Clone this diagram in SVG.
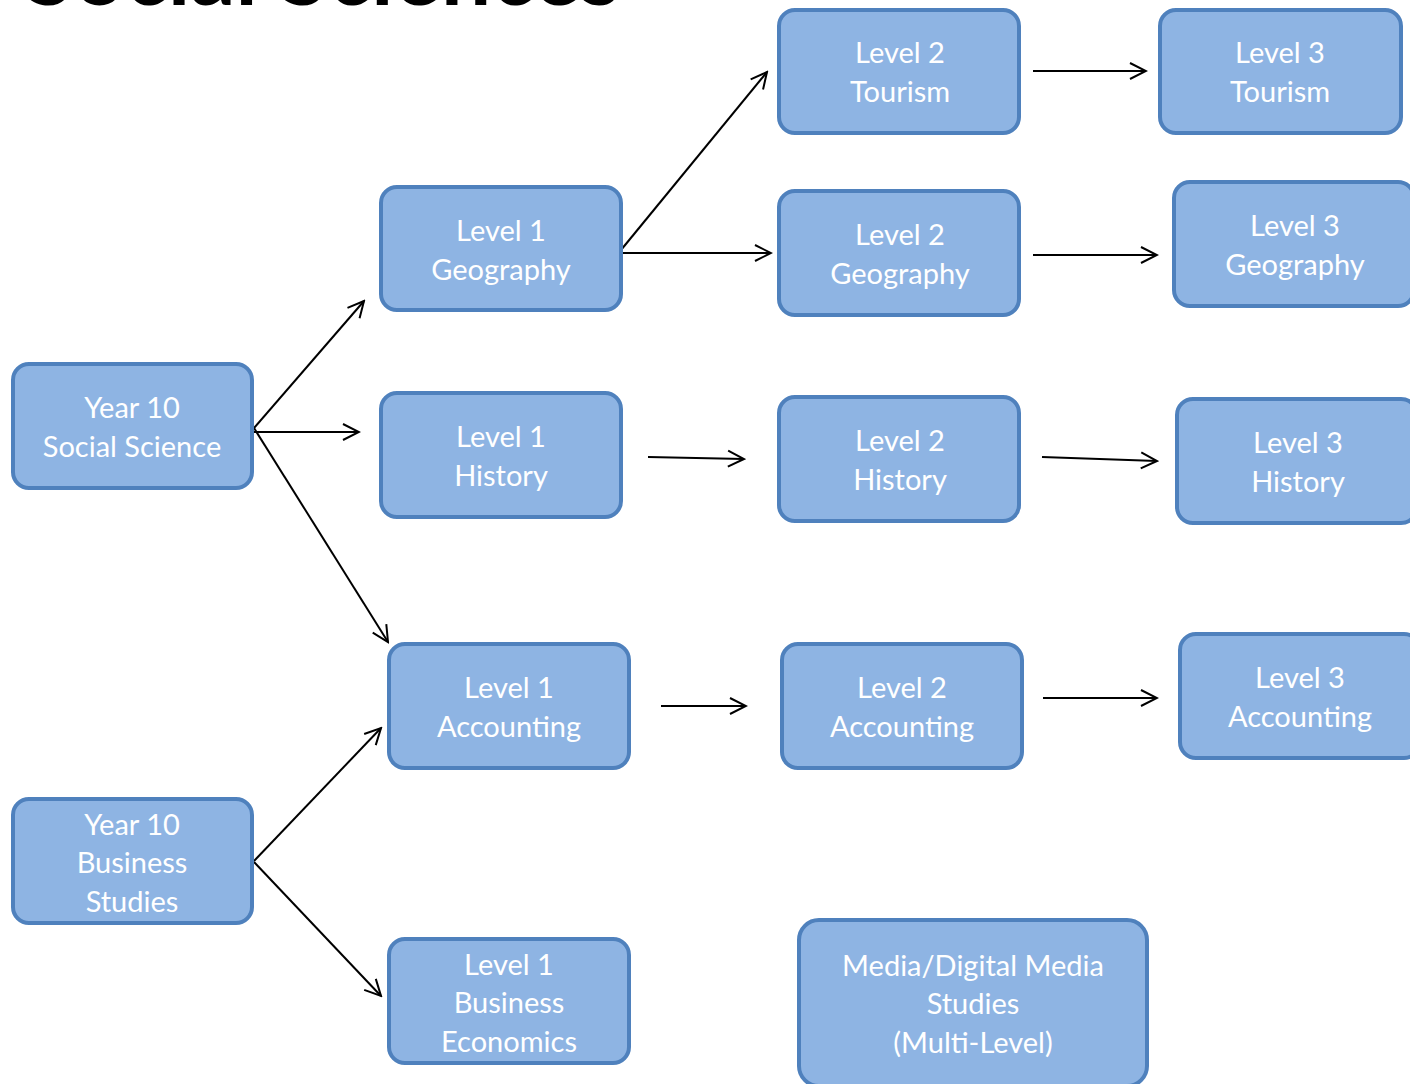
<svg xmlns="http://www.w3.org/2000/svg" width="1410" height="1084" viewBox="0 0 1410 1084">
<style>
.box{fill:#8EB4E3;stroke:#4F81BD;stroke-width:4}
.t{font-family:Lato,"Open Sans","Liberation Sans",sans-serif;font-size:29px;fill:#ffffff;text-anchor:middle}
.c{stroke:#000;stroke-width:2;fill:none;marker-end:url(#ah)}
.title{font-family:Lato,"Liberation Sans",sans-serif;font-weight:bold;font-size:90px;fill:#000}
</style>
<defs>
<marker id="ah" viewBox="0 0 20 20" markerWidth="20" markerHeight="20" markerUnits="userSpaceOnUse" refX="18" refY="10" orient="auto">
<path d="M2,2 L18,10 L2,18" fill="none" stroke="#000" stroke-width="2"/>
</marker>
</defs>
<rect width="1410" height="1084" fill="#fff"/>
<text class="title" x="25" y="5" textLength="595" lengthAdjust="spacingAndGlyphs">Social Sciences</text>

<g id="connectors">
<line class="c" x1="254" y1="428" x2="364" y2="301"/>
<line class="c" x1="254" y1="432" x2="359" y2="432"/>
<line class="c" x1="254" y1="428" x2="388" y2="642"/>
<line class="c" x1="621" y1="250" x2="767" y2="72"/>
<line class="c" x1="621" y1="253" x2="771" y2="253"/>
<line class="c" x1="1033" y1="71" x2="1146" y2="71"/>
<line class="c" x1="1033" y1="255" x2="1157" y2="255"/>
<line class="c" x1="648" y1="457" x2="744" y2="459"/>
<line class="c" x1="1042" y1="457" x2="1157" y2="461"/>
<line class="c" x1="661" y1="706" x2="746" y2="706"/>
<line class="c" x1="1043" y1="698" x2="1157" y2="698"/>
<line class="c" x1="254" y1="861" x2="381" y2="728"/>
<line class="c" x1="254" y1="862" x2="381" y2="996"/>
</g>

<g id="y10ss"><rect class="box" x="13" y="364" width="239" height="124" rx="16"/>
<text class="t" x="132" y="418">Year 10</text><text class="t" x="132" y="457">Social Science</text></g>

<g id="l1geo"><rect class="box" x="381" y="187" width="240" height="123" rx="16"/>
<text class="t" x="501" y="241">Level 1</text><text class="t" x="501" y="280">Geography</text></g>

<g id="l2tour"><rect class="box" x="779" y="10" width="240" height="123" rx="16"/>
<text class="t" x="900" y="63">Level 2</text><text class="t" x="900" y="102">Tourism</text></g>

<g id="l3tour"><rect class="box" x="1160" y="10" width="241" height="123" rx="16"/>
<text class="t" x="1280" y="63">Level 3</text><text class="t" x="1280" y="102">Tourism</text></g>

<g id="l2geo"><rect class="box" x="779" y="191" width="240" height="124" rx="16"/>
<text class="t" x="900" y="245">Level 2</text><text class="t" x="900" y="284">Geography</text></g>

<g id="l3geo"><rect class="box" x="1174" y="182" width="240" height="124" rx="16"/>
<text class="t" x="1295" y="236">Level 3</text><text class="t" x="1295" y="275">Geography</text></g>

<g id="l1hist"><rect class="box" x="381" y="393" width="240" height="124" rx="16"/>
<text class="t" x="501" y="447">Level 1</text><text class="t" x="501" y="486">History</text></g>

<g id="l2hist"><rect class="box" x="779" y="397" width="240" height="124" rx="16"/>
<text class="t" x="900" y="451">Level 2</text><text class="t" x="900" y="490">History</text></g>

<g id="l3hist"><rect class="box" x="1177" y="399" width="240" height="124" rx="16"/>
<text class="t" x="1298" y="453">Level 3</text><text class="t" x="1298" y="492">History</text></g>

<g id="l1acc"><rect class="box" x="389" y="644" width="240" height="124" rx="16"/>
<text class="t" x="509" y="698">Level 1</text><text class="t" x="509" y="737">Accounting</text></g>

<g id="l2acc"><rect class="box" x="782" y="644" width="240" height="124" rx="16"/>
<text class="t" x="902" y="698">Level 2</text><text class="t" x="902" y="737">Accounting</text></g>

<g id="l3acc"><rect class="box" x="1180" y="634" width="240" height="124" rx="16"/>
<text class="t" x="1300" y="688">Level 3</text><text class="t" x="1300" y="727">Accounting</text></g>

<g id="y10bs"><rect class="box" x="13" y="799" width="239" height="124" rx="16"/>
<text class="t" x="132" y="835">Year 10</text><text class="t" x="132" y="873">Business</text><text class="t" x="132" y="912">Studies</text></g>

<g id="l1be"><rect class="box" x="389" y="939" width="240" height="124" rx="16"/>
<text class="t" x="509" y="975">Level 1</text><text class="t" x="509" y="1013">Business</text><text class="t" x="509" y="1052">Economics</text></g>

<g id="media"><rect class="box" x="799" y="920" width="348" height="166" rx="20"/>
<text class="t" x="973" y="976">Media/Digital Media</text><text class="t" x="973" y="1014">Studies</text><text class="t" x="973" y="1053">(Multi-Level)</text></g>
</svg>
